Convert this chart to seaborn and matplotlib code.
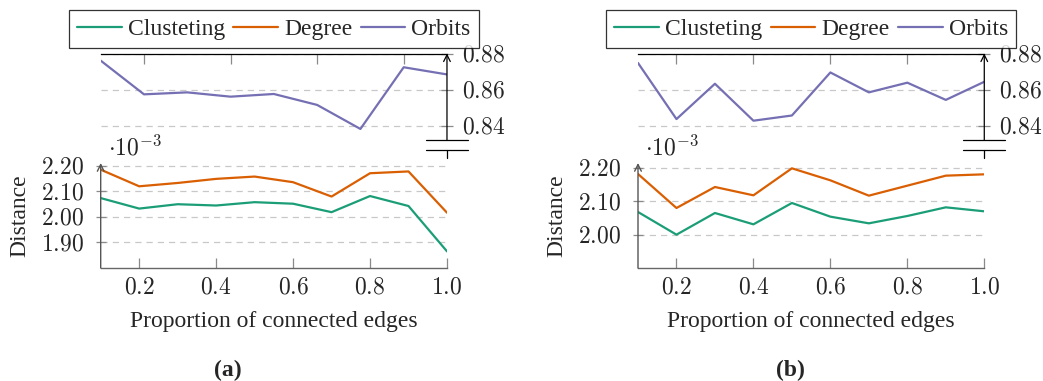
import numpy as np
import pandas as pd
import seaborn as sns
import matplotlib.pyplot as plt

# values
x_props = [0.1, 0.2, 0.3, 0.4, 0.5, 0.6, 0.7, 0.8, 0.9, 1.0]
x_tick_vals = [0.2, 0.4, 0.6, 0.8, 1.0]
x_tick_labels = ["0.2", "0.4", "0.6", "0.8", "1.0"]

# (a)
clust_a = [2.073, 2.032, 2.049, 2.044, 2.057, 2.051, 2.018, 2.081, 2.042, 1.865]
degree_a = [2.184, 2.119, 2.132, 2.148, 2.157, 2.135, 2.079, 2.170, 2.177, 2.016]
orbits_a_x = [0.1, 0.2, 0.3, 0.4, 0.5, 0.6, 0.7, 0.8, 0.9]
orbits_a = [0.8763, 0.8575, 0.8586, 0.8562, 0.8577, 0.8516, 0.8382, 0.8726, 0.8686]
low_ticks_a = [1.90, 2.00, 2.10, 2.20]
low_labels_a = ["1.90", "2.00", "2.10", "2.20"]

# (b)
clust_b = [2.068, 2.000, 2.065, 2.031, 2.095, 2.054, 2.034, 2.056, 2.082, 2.070]
degree_b = [2.182, 2.080, 2.143, 2.118, 2.199, 2.163, 2.117, 2.147, 2.177, 2.181]
orbits_b_x = x_props
orbits_b = [0.8750, 0.8437, 0.8634, 0.8428, 0.8457, 0.8697, 0.8586, 0.8640, 0.8544, 0.8645]
low_ticks_b = [2.00, 2.10, 2.20]
low_labels_b = ["2.00", "2.10", "2.20"]

up_ticks = [0.84, 0.86, 0.88]
up_labels = ["0.84", "0.86", "0.88"]

CLUST = "#1b9e77"
DEG = "#d95f02"
ORB = "#7570b3"
GRID = "#c8c8c8"
TICK = "#8a8a8a"
FS = 17

sns.set_theme(style="white")
plt.rcParams["font.family"] = ["Liberation Serif", "DejaVu Serif"]
plt.rcParams["mathtext.fontset"] = "cm"

fig = plt.figure(figsize=(10.43, 3.81), dpi=100)


def math(s):
    return f"${s}$"


def draw_panel(left, clust, deg, orb_x, orb, low_lim, low_ticks, low_labels, tag, tag_x):
    w = 0.332
    # ---- upper (orbits) axis
    ax_u = fig.add_axes([left, 0.5853, w, 0.273])
    sns.lineplot(x=orb_x, y=orb, ax=ax_u, color=ORB, lw=1.6)
    orb_line = ax_u.lines[-1]
    ax_u.set_xlim(orb_x[0], orb_x[-1])
    ax_u.set_ylim(0.822, 0.88)
    ax_u.xaxis.tick_top()
    ax_u.set_xticks([t for t in x_tick_vals if t < orb_x[-1]])
    ax_u.tick_params(axis="x", direction="in", length=7, color=TICK,
                     width=0.9, labeltop=False, labelbottom=False)
    ax_u.yaxis.tick_right()
    ax_u.set_yticks(up_ticks)
    ax_u.set_yticklabels([math(s) for s in up_labels])
    ax_u.tick_params(axis="y", direction="inout", length=8, pad=6.5, width=0.9,
                     color=TICK, labelsize=FS, right=True, left=False)
    ax_u.grid(axis="y", ls=(0, (5, 4)), color=GRID, lw=0.9)
    for s in ["left", "bottom", "right"]:
        ax_u.spines[s].set_visible(False)
    ax_u.spines["top"].set_color("black")
    ax_u.spines["top"].set_linewidth(0.9)
    b_lo, b_hi = 0.077, 0.173
    ax_u.plot([1, 1], [0, b_lo], transform=ax_u.transAxes, color="black",
              lw=0.9, clip_on=False)
    ax_u.annotate("", xy=(1, 1.005), xytext=(1, b_hi), xycoords="axes fraction",
                  arrowprops=dict(arrowstyle="->", lw=0.9, color="black",
                                  shrinkA=0, shrinkB=0))
    for yb in (b_lo, b_hi):
        ax_u.plot([0.939, 1.061], [yb, yb], transform=ax_u.transAxes,
                  color="black", lw=0.9, clip_on=False)

    # ---- lower (clustering / degree) axis
    ax_l = fig.add_axes([left, 0.2966, w, 0.2756])
    df = pd.DataFrame({"x": x_props, "Clusteting": clust, "Degree": deg})
    sns.lineplot(data=df, x="x", y="Clusteting", ax=ax_l, color=CLUST, lw=1.6)
    sns.lineplot(data=df, x="x", y="Degree", ax=ax_l, color=DEG, lw=1.6)
    cl_line, dg_line = ax_l.lines[0], ax_l.lines[1]
    ax_l.set_xlim(x_props[0], x_props[-1])
    ax_l.set_ylim(*low_lim)
    ax_l.set_xticks(x_tick_vals)
    ax_l.set_xticklabels([math(s) for s in x_tick_labels])
    ax_l.set_yticks(low_ticks)
    ax_l.set_yticklabels([math(s) for s in low_labels])
    ax_l.tick_params(axis="x", direction="in", length=7, color=TICK,
                     width=0.9, pad=7, labelsize=FS, bottom=True)
    ax_l.tick_params(axis="y", direction="inout", length=7, width=0.9,
                     color=TICK, pad=8.5, labelsize=FS, left=True)
    ax_l.grid(axis="y", ls=(0, (5, 4)), color=GRID, lw=0.9)
    for s in ["left", "top", "right"]:
        ax_l.spines[s].set_visible(False)
    ax_l.spines["bottom"].set_color("#666666")
    ax_l.spines["bottom"].set_linewidth(1.0)
    ax_l.annotate("", xy=(0, 1.0), xytext=(0, 0), xycoords="axes fraction",
                  arrowprops=dict(arrowstyle="->", lw=1.0, color="#555555",
                                  shrinkA=0, shrinkB=0))
    ax_l.text(0.02, 1.02, r"$\cdot 10^{-3}$", transform=ax_l.transAxes,
              va="bottom", ha="left", fontsize=FS)
    ax_l.set_xlabel("Proportion of connected edges", fontsize=FS, labelpad=9)
    ax_l.set_ylabel("Distance", fontsize=FS, labelpad=8)

    leg = ax_u.legend([cl_line, dg_line, orb_line], ["Clusteting", "Degree", "Orbits"],
                      loc="lower center", bbox_to_anchor=(0.5, 1.055), ncol=3,
                      frameon=True, fancybox=False, fontsize=FS, borderaxespad=0,
                      handlelength=1.9, handletextpad=0.25, columnspacing=0.35,
                      borderpad=0.35)
    leg.get_frame().set_edgecolor("black")
    leg.get_frame().set_linewidth(0.9)

    fig.text(tag_x, 1 - 370 / 381, tag, ha="center", va="center",
             fontsize=FS, fontweight="bold")


draw_panel(100.7 / 1043, clust_a, degree_a, orbits_a_x, orbits_a,
           (1.80, 2.21), low_ticks_a, low_labels_a, "(a)", 228 / 1043)
draw_panel(638 / 1043, clust_b, degree_b, orbits_b_x, orbits_b,
           (1.90, 2.215), low_ticks_b, low_labels_b, "(b)", 790 / 1043)

fig.savefig("out.png", dpi=100)
